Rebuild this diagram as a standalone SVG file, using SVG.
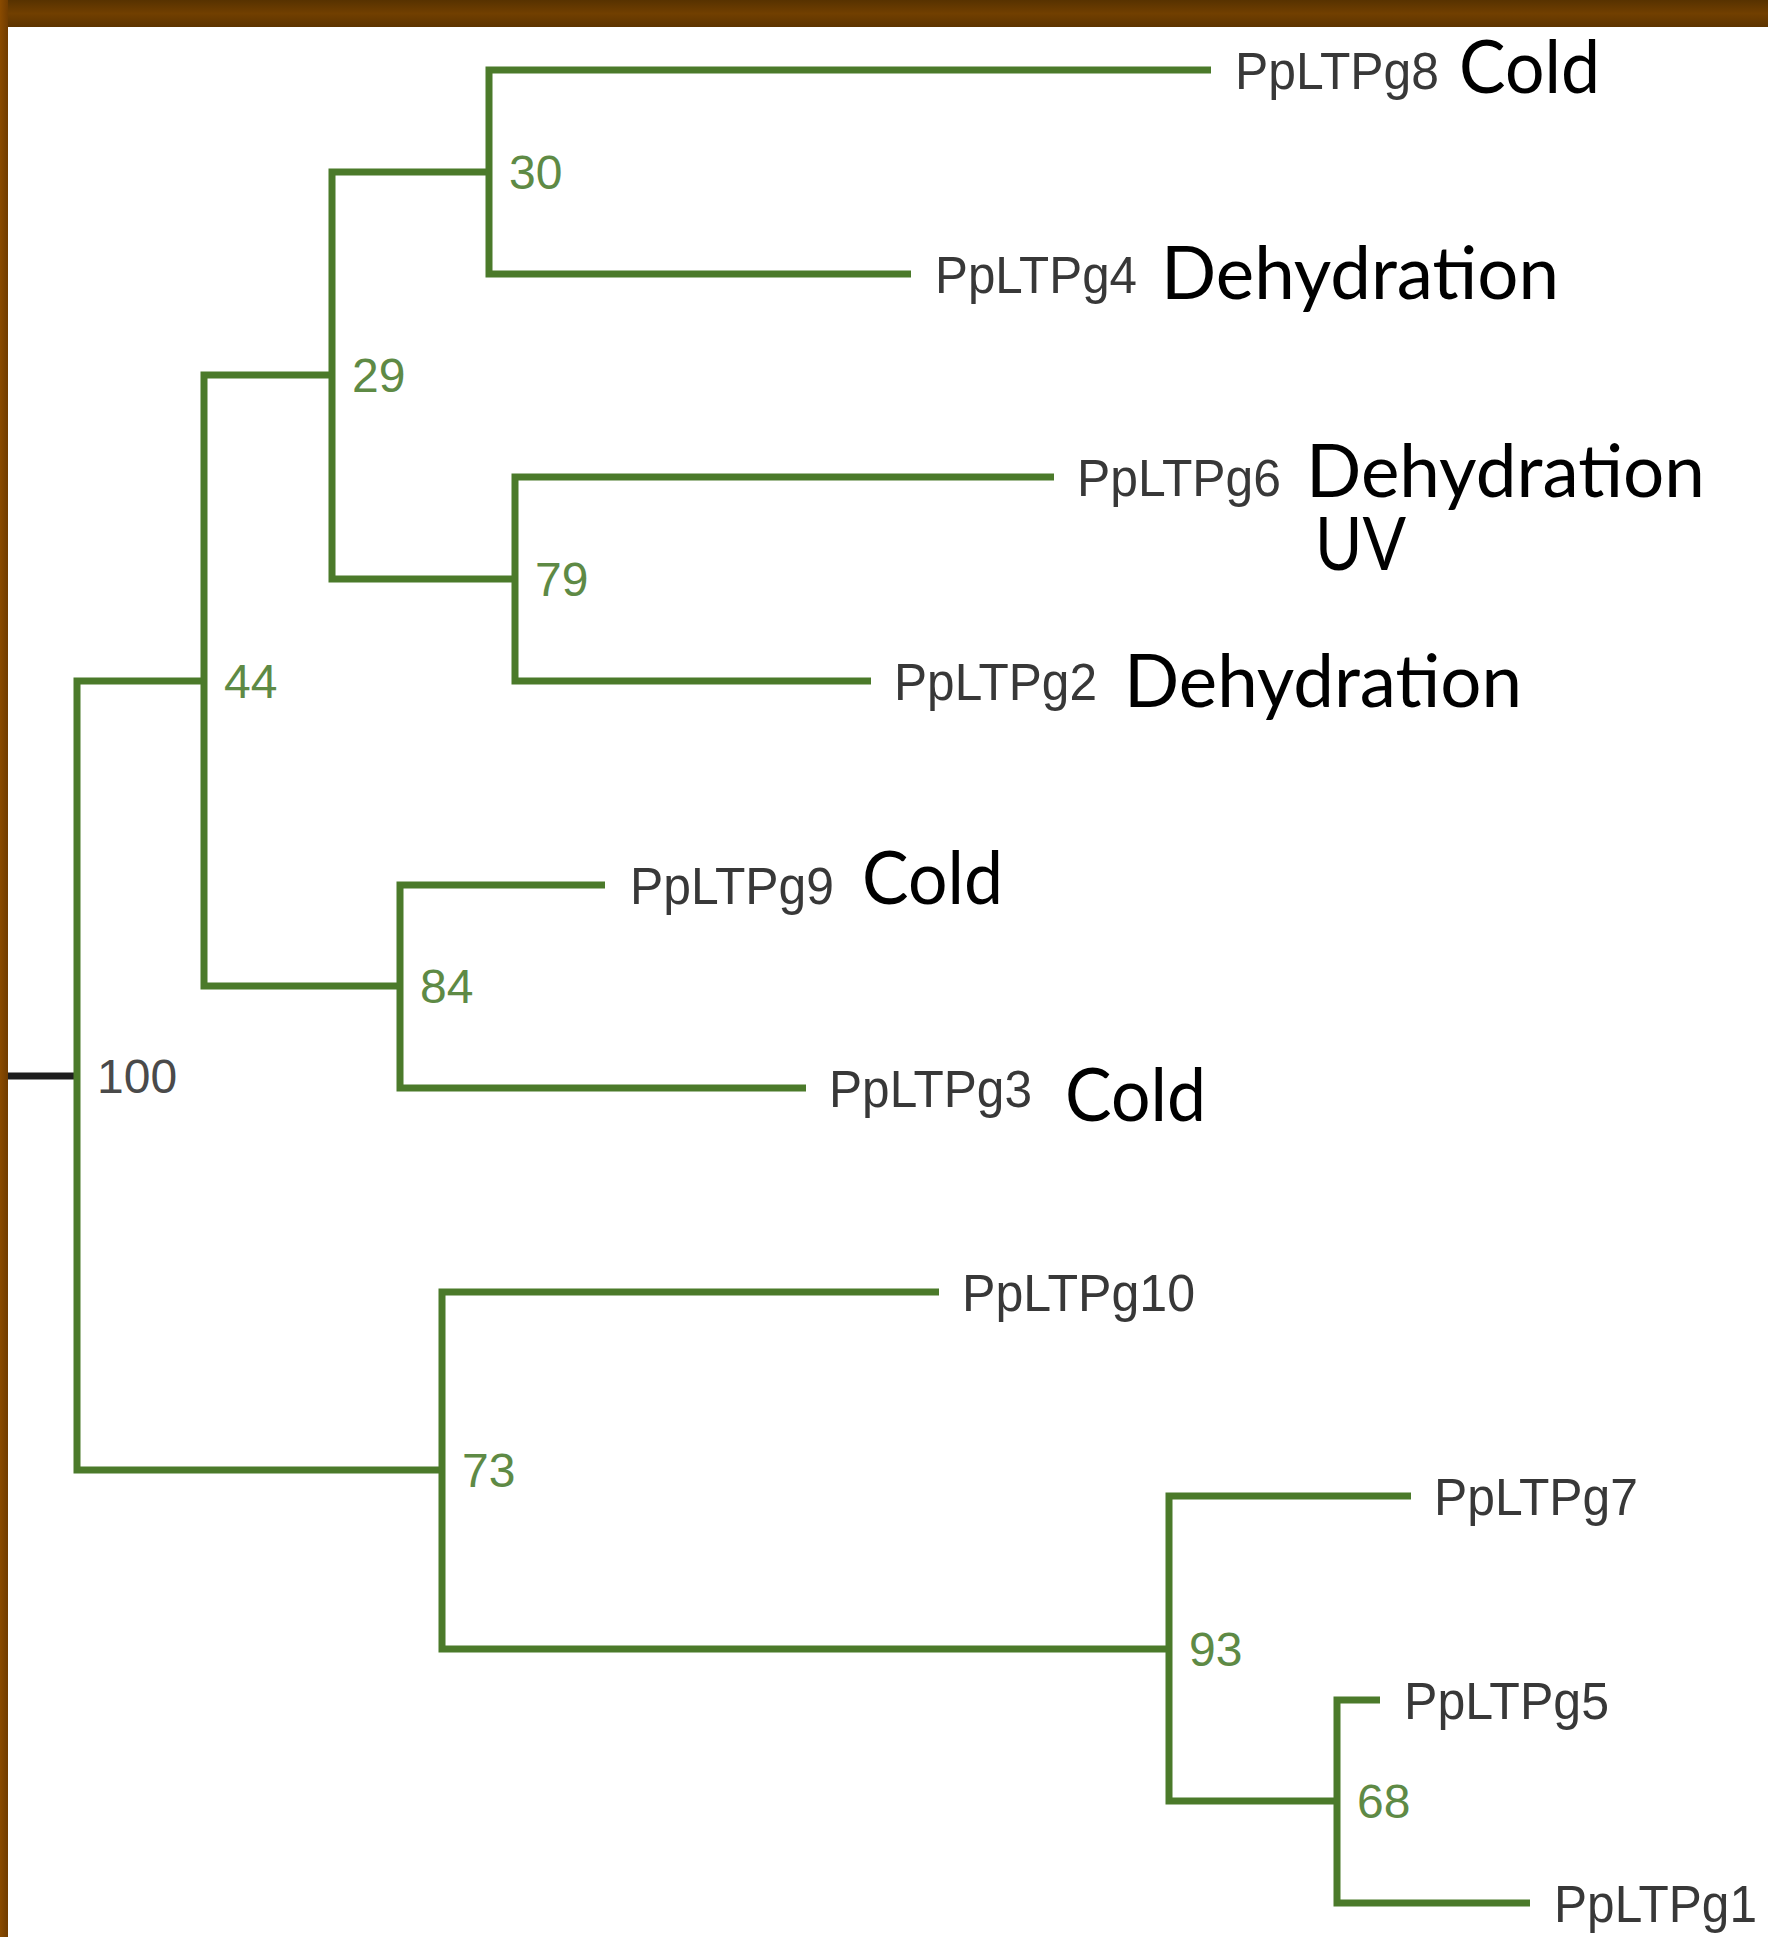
<svg xmlns="http://www.w3.org/2000/svg" width="1768" height="1937" viewBox="0 0 1768 1937">
<defs>
<linearGradient id="topband" x1="0" y1="0" x2="0" y2="1">
<stop offset="0" stop-color="#573200"/>
<stop offset="0.5" stop-color="#713f00"/>
<stop offset="1" stop-color="#5d3400"/>
</linearGradient>
<linearGradient id="leftband" x1="0" y1="0" x2="1" y2="0">
<stop offset="0" stop-color="#8a4b00"/>
<stop offset="1" stop-color="#703c00"/>
</linearGradient>
<style>
.br{fill:none;stroke:#4b7a2a;stroke-width:7;stroke-linejoin:miter;stroke-linecap:butt}
.root{fill:none;stroke:#1e1e1e;stroke-width:7}
.leaf{font-family:"Liberation Sans",Arial,sans-serif;font-size:51px;fill:#383838}
.bs{font-family:"Liberation Sans",Arial,sans-serif;font-size:48px;fill:#5e8a45}
.bsk{font-family:"Liberation Sans",Arial,sans-serif;font-size:48px;fill:#4a4a4a}
.ann{font-family:Lato,"Open Sans",sans-serif;font-size:74px;fill:#000}
</style>
</defs>
<rect x="0" y="0" width="1768" height="1937" fill="#ffffff"/>
<rect x="0" y="0" width="1768" height="27" fill="url(#topband)"/>
<rect x="0" y="0" width="8" height="1937" fill="url(#leftband)"/>

<g id="connectors">
<path class="root" d="M8,1076 H77"/>
<path class="br" d="M204,681 H77 V1470 H442"/>
<path class="br" d="M332,375 H204 V986 H400"/>
<path class="br" d="M489,172 H332 V579 H515"/>
<path class="br" d="M1211,70 H489 V274 H911"/>
<path class="br" d="M1054,477 H515 V681 H871"/>
<path class="br" d="M605,885 H400 V1088 H806"/>
<path class="br" d="M939,1292 H442 V1649 H1169"/>
<path class="br" d="M1411,1496 H1169 V1801 H1337"/>
<path class="br" d="M1380,1700 H1337 V1903 H1530"/>
</g>

<g id="node-100"><text class="bsk" x="97" y="1093">100</text></g>
<g id="node-44"><text class="bs" x="224" y="698">44</text></g>
<g id="node-29"><text class="bs" x="352" y="392">29</text></g>
<g id="node-30"><text class="bs" x="509" y="189">30</text></g>
<g id="node-79"><text class="bs" x="535" y="596">79</text></g>
<g id="node-84"><text class="bs" x="420" y="1003">84</text></g>
<g id="node-73"><text class="bs" x="462" y="1487">73</text></g>
<g id="node-93"><text class="bs" x="1189" y="1666">93</text></g>
<g id="node-68"><text class="bs" x="1357" y="1818">68</text></g>

<g id="leaf-PpLTPg8">
<text class="leaf" x="1235" y="89" textLength="204" lengthAdjust="spacingAndGlyphs">PpLTPg8</text>
<text class="ann" x="1459" y="93" textLength="141" lengthAdjust="spacingAndGlyphs">Cold</text>
</g>
<g id="leaf-PpLTPg4">
<text class="leaf" x="935" y="293" textLength="202" lengthAdjust="spacingAndGlyphs">PpLTPg4</text>
<text class="ann" x="1161" y="299" textLength="398" lengthAdjust="spacingAndGlyphs">Dehydration</text>
</g>
<g id="leaf-PpLTPg6">
<text class="leaf" x="1077" y="496" textLength="204" lengthAdjust="spacingAndGlyphs">PpLTPg6</text>
<text class="ann" x="1306" y="497" textLength="399" lengthAdjust="spacingAndGlyphs">Dehydration</text>
<text class="ann" x="1315" y="570" textLength="91" lengthAdjust="spacingAndGlyphs">UV</text>
</g>
<g id="leaf-PpLTPg2">
<text class="leaf" x="894" y="700" textLength="203" lengthAdjust="spacingAndGlyphs">PpLTPg2</text>
<text class="ann" x="1124" y="707" textLength="398" lengthAdjust="spacingAndGlyphs">Dehydration</text>
</g>
<g id="leaf-PpLTPg9">
<text class="leaf" x="630" y="904" textLength="204" lengthAdjust="spacingAndGlyphs">PpLTPg9</text>
<text class="ann" x="862" y="904" textLength="141" lengthAdjust="spacingAndGlyphs">Cold</text>
</g>
<g id="leaf-PpLTPg3">
<text class="leaf" x="829" y="1107" textLength="203" lengthAdjust="spacingAndGlyphs">PpLTPg3</text>
<text class="ann" x="1065" y="1121" textLength="141" lengthAdjust="spacingAndGlyphs">Cold</text>
</g>
<g id="leaf-PpLTPg10">
<text class="leaf" x="962" y="1311" textLength="233" lengthAdjust="spacingAndGlyphs">PpLTPg10</text>
</g>
<g id="leaf-PpLTPg7">
<text class="leaf" x="1434" y="1515" textLength="204" lengthAdjust="spacingAndGlyphs">PpLTPg7</text>
</g>
<g id="leaf-PpLTPg5">
<text class="leaf" x="1404" y="1719" textLength="205" lengthAdjust="spacingAndGlyphs">PpLTPg5</text>
</g>
<g id="leaf-PpLTPg1">
<text class="leaf" x="1554" y="1922" textLength="203" lengthAdjust="spacingAndGlyphs">PpLTPg1</text>
</g>
</svg>
